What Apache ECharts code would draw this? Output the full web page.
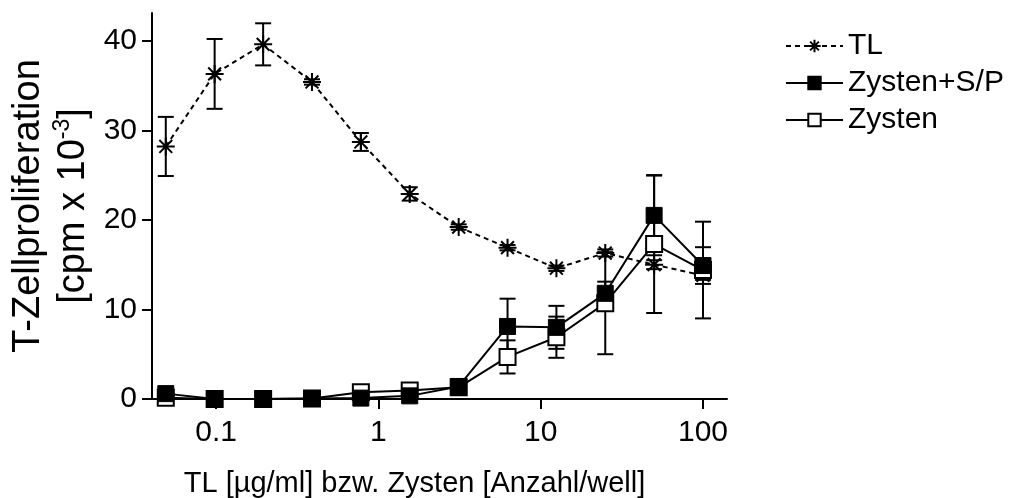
<!DOCTYPE html>
<html>
<head>
<meta charset="utf-8">
<script src="https://cdn.jsdelivr.net/npm/echarts@6/dist/echarts.min.js"></script>
<style>
  html, body { margin: 0; padding: 0; background: #fff; }
  #chart { width: 1013px; height: 498px; }
</style>
</head>
<body>
<div id="chart"></div>
<script>
// Dosis (x) und Mittelwerte / Fehler (y, cpm x 10^-3)
const doses = [0.049, 0.098, 0.195, 0.39, 0.78, 1.56, 3.125, 6.25, 12.5, 25, 50, 100];
const tlMean = [28.2, 36.3, 39.6, 35.4, 28.7, 22.9, 19.2, 16.9, 14.6, 16.3, 15.0, 13.8];
const tlErr = [3.3, 3.9, 2.35, 0.3, 1.0, 0.75, 0.3, 0.3, 0.3, 0.4, 0.5, 0.5];
const zspMean = [0.6, 0.0, 0.0, 0.05, 0.1, 0.35, 1.4, 8.1, 8.0, 11.8, 20.5, 14.9];
const zspErr = [0.3, 0, 0, 0, 0.1, 0.2, 0.3, 3.1, 2.4, 1.3, 4.45, 2.05];
const zMean = [0.15, 0.0, 0.0, 0.05, 0.75, 0.95, 1.3, 4.7, 6.9, 10.7, 17.3, 14.4];
const zErr = [0.2, 0, 0, 0, 0.2, 0.2, 0.3, 1.85, 2.3, 5.7, 7.7, 5.4];
const xTicks = [0.1, 1, 10, 100];
const yTicks = [0, 10, 20, 30, 40];

const starPath = "path://M0,8L16,8M8,0L8,16M2.3,2.3L13.7,13.7M13.7,2.3L2.3,13.7";

const pairs = (ys) => doses.map((x, i) => [x, ys[i]]);
const triples = (ys, es) => doses.map((x, i) => [x, ys[i], es[i]]);

// Fehlerbalken mit Kappen
const errorBar = (params, api) => {
  const x = api.value(0);
  const y = api.value(1);
  const e = api.value(2);
  if (!e) return null;
  const top = api.coord([x, y + e]);
  const bot = api.coord([x, Math.max(y - e, 0)]);
  const hw = 8;
  const style = { stroke: "#000", lineWidth: 2 };
  return {
    type: "group",
    children: [
      { type: "line", shape: { x1: top[0], y1: top[1], x2: bot[0], y2: bot[1] }, style: style },
      { type: "line", shape: { x1: top[0] - hw, y1: top[1], x2: top[0] + hw, y2: top[1] }, style: style },
      { type: "line", shape: { x1: bot[0] - hw, y1: bot[1], x2: bot[0] + hw, y2: bot[1] }, style: style },
    ],
  };
};

const chart = echarts.init(document.getElementById("chart"));

const option = {
  animation: false,
  textStyle: { fontFamily: "Liberation Sans, Arial, sans-serif", color: "#000" },
  grid: { left: 152, right: 286, top: 13, bottom: 99, containLabel: false, outerBoundsMode: "none" },
  legend: {
    orient: "vertical",
    left: 780,
    top: 26,
    itemWidth: 57,
    itemHeight: 15.5,
    itemGap: 7,
    textStyle: { fontSize: 30, color: "#000" },
    data: ["TL", "Zysten+S/P", "Zysten"],
  },
  xAxis: {
    type: "log",
    min: 0.0403,
    max: 140.6,
    name: "TL [µg/ml] bzw. Zysten [Anzahl/well]",
    nameLocation: "middle",
    nameGap: 70,
    nameTextStyle: { fontSize: 29, color: "#000", padding: [0, 50, 0, 0] },
    axisLine: { lineStyle: { color: "#000", width: 2 } },
    axisTick: { length: 10, lineStyle: { color: "#000", width: 2 }, customValues: xTicks },
    axisLabel: { fontSize: 30, color: "#000", margin: 19, customValues: xTicks },
    splitLine: { show: false },
    minorTick: { show: false },
  },
  yAxis: {
    type: "value",
    min: 0,
    max: 43.1,
    name: "{a|T-Zellproliferation}\n{a|[cpm x 10}{s|-3}{a|]}",
    nameLocation: "middle",
    nameGap: 55,
    nameTextStyle: {
      rich: {
        a: { fontSize: 38, lineHeight: 45, color: "#000" },
        s: { fontSize: 23, lineHeight: 45, verticalAlign: "top", color: "#000" },
      },
    },
    axisLine: { show: true, lineStyle: { color: "#000", width: 2 } },
    axisTick: { show: true, length: 10, lineStyle: { color: "#000", width: 2 }, customValues: yTicks },
    axisLabel: { fontSize: 30, color: "#000", margin: 15, customValues: yTicks },
    splitLine: { show: false },
  },
  series: [
    {
      name: "TL",
      type: "line",
      data: pairs(tlMean),
      symbol: starPath,
      symbolSize: 18,
      lineStyle: { color: "#000", width: 2, type: [5, 4] },
      itemStyle: { color: "rgba(0,0,0,0)", borderColor: "#000", borderWidth: 2 },
    },
    {
      type: "custom",
      renderItem: errorBar,
      data: triples(tlMean, tlErr),
      encode: { x: 0, y: 1 },
    },
    {
      type: "custom",
      renderItem: errorBar,
      data: triples(zMean, zErr),
      encode: { x: 0, y: 1 },
    },
    {
      name: "Zysten",
      type: "line",
      data: pairs(zMean),
      symbol: "rect",
      symbolSize: 16,
      lineStyle: { color: "#000", width: 2 },
      itemStyle: { color: "#fff", borderColor: "#000", borderWidth: 2 },
    },
    {
      type: "custom",
      renderItem: errorBar,
      data: triples(zspMean, zspErr),
      encode: { x: 0, y: 1 },
    },
    {
      name: "Zysten+S/P",
      type: "line",
      data: pairs(zspMean),
      symbol: "rect",
      symbolSize: 16,
      lineStyle: { color: "#000", width: 2 },
      itemStyle: { color: "#000", borderColor: "#000", borderWidth: 1 },
    },
  ],
};

chart.setOption(option);
</script>
</body>
</html>
